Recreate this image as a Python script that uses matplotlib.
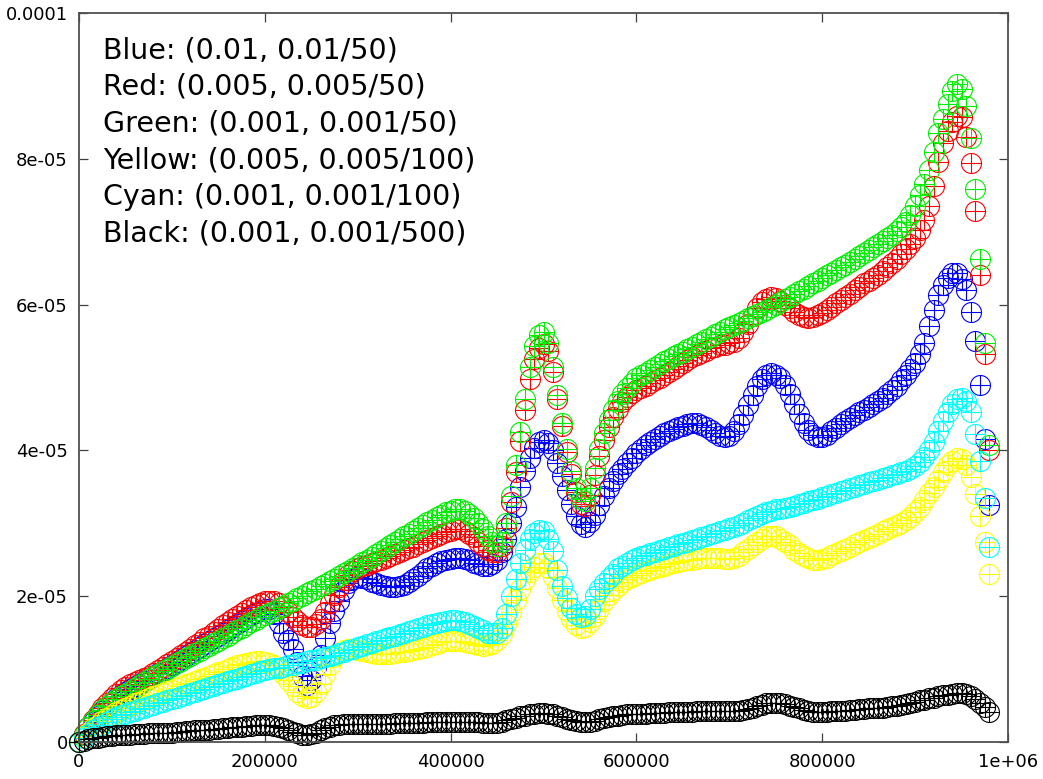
import numpy as np
import matplotlib
matplotlib.use('Agg')
import matplotlib.pyplot as plt
from matplotlib.path import Path

plt.rcParams['font.family'] = ['DejaVu Sans']

# iteration counter (sampled every 5000)
steps = np.arange(0, 985000, 5000)

# values, in units of 1e-6
blue = [0, 1.0, 2.0, 2.8, 3.6, 4.3, 5.0, 5.5, 6.0, 6.5,
        6.9, 7.3, 7.7, 8.0, 8.4, 8.7, 9.1, 9.5, 9.8, 10.2,
        10.6, 11.0, 11.4, 11.8, 12.2, 12.6, 13.0, 13.4, 13.8, 14.2,
        14.6, 15.0, 15.4, 15.8, 16.2, 16.6, 17.0, 17.4, 17.7, 18.0,
        18.2, 18.2, 17.6, 16.3, 15.0, 14.0, 12.8, 11.0, 9.0, 7.8,
        8.5, 10.3, 12.0, 14.3, 16.3, 18.0, 19.4, 20.8, 21.8, 22.4,
        22.6, 22.5, 22.3, 22.0, 21.8, 21.6, 21.4, 21.3, 21.3, 21.4,
        21.6, 21.9, 22.3, 22.8, 23.3, 23.8, 24.2, 24.5, 24.8, 25.0,
        25.1, 25.2, 25.2, 25.1, 24.9, 24.6, 24.4, 24.2, 24.2, 24.4,
        24.9, 26.0, 27.8, 30.0, 32.3, 35.0, 37.2, 39.0, 40.3, 41.2,
        41.4, 41.0, 40.0, 38.3, 36.5, 34.6, 32.6, 31.0, 29.9, 29.5,
        30.2, 31.2, 32.5, 33.7, 34.8, 35.8, 36.7, 37.5, 38.3, 39.0,
        39.6, 40.2, 40.7, 41.2, 41.6, 42.0, 42.4, 42.7, 43.0, 43.2,
        43.4, 43.6, 43.7, 43.7, 43.5, 43.2, 42.8, 42.4, 42.0, 41.9,
        42.0, 42.6, 43.6, 44.8, 46.2, 47.6, 48.9, 49.8, 50.4, 50.6,
        50.4, 49.9, 49.0, 47.8, 46.4, 45.0, 43.8, 42.8, 42.1, 41.8,
        41.8, 42.1, 42.6, 43.1, 43.6, 44.0, 44.4, 44.8, 45.2, 45.6,
        46.0, 46.4, 46.8, 47.2, 47.7, 48.3, 48.9, 49.6, 50.3, 51.1,
        52.0, 53.2, 54.8, 57.0, 59.3, 61.3, 62.7, 63.7, 64.3, 64.4,
        63.5, 62.0, 59.0, 55.0, 49.0, 41.5, 32.5]

red = [0, 1.1, 2.1, 3.0, 3.8, 4.6, 5.3, 6.0, 6.6, 7.1,
       7.5, 7.9, 8.2, 8.5, 8.8, 9.1, 9.5, 9.9, 10.3, 10.7,
       11.1, 11.5, 12.0, 12.4, 12.8, 13.3, 13.7, 14.2, 14.6, 15.1,
       15.5, 16.0, 16.4, 16.9, 17.3, 17.7, 18.1, 18.5, 18.8, 19.1,
       19.3, 19.4, 19.3, 19.0, 18.5, 17.9, 17.2, 16.6, 16.1, 15.8,
       15.8, 16.2, 16.9, 17.9, 19.0, 20.2, 21.3, 22.2, 22.9, 23.4,
       23.8, 24.1, 24.3, 24.5, 24.8, 25.0, 25.3, 25.5, 25.8, 26.0,
       26.3, 26.6, 26.8, 27.1, 27.4, 27.7, 28.0, 28.3, 28.6, 28.8,
       29.0, 29.2, 29.2, 29.0, 28.6, 28.1, 27.5, 26.9, 26.4, 26.1,
       26.1, 26.9, 29.3, 32.9, 37.0, 41.3, 45.6, 49.8, 52.6, 54.1,
       54.6, 53.6, 50.8, 47.1, 43.4, 39.8, 36.8, 34.3, 32.7, 32.4,
       33.9, 36.6, 39.2, 41.4, 43.2, 44.6, 45.7, 46.6, 47.3, 47.9,
       48.3, 48.6, 48.9, 49.2, 49.6, 50.0, 50.4, 50.8, 51.2, 51.6,
       52.0, 52.4, 52.8, 53.1, 53.4, 53.7, 54.0, 54.2, 54.4, 54.5,
       54.7, 54.9, 55.4, 56.2, 57.3, 58.5, 59.5, 60.3, 60.8, 61.0,
       60.9, 60.5, 60.0, 59.5, 59.0, 58.6, 58.3, 58.2, 58.3, 58.6,
       58.9, 59.3, 59.7, 60.2, 60.6, 61.0, 61.5, 62.0, 62.4, 62.9,
       63.3, 63.7, 64.1, 64.6, 65.1, 65.7, 66.3, 66.9, 67.6, 68.3,
       69.2, 70.3, 71.6, 73.5, 76.3, 79.5, 82.2, 83.8, 85.0, 85.9,
       85.7, 83.0, 79.4, 72.9, 64.1, 53.2, 40.1]

green = [0, 1.0, 2.0, 2.9, 3.7, 4.4, 5.0, 5.5, 5.9, 6.3,
         6.6, 7.0, 7.4, 7.8, 8.2, 8.6, 9.0, 9.3, 9.7, 10.0,
         10.4, 10.8, 11.1, 11.5, 11.8, 12.2, 12.5, 12.9, 13.2, 13.6,
         13.9, 14.3, 14.6, 15.0, 15.3, 15.7, 16.0, 16.4, 16.7, 17.1,
         17.4, 17.7, 18.0, 18.4, 18.7, 19.0, 19.4, 19.7, 20.0, 20.4,
         20.7, 21.0, 21.4, 21.7, 22.1, 22.4, 22.8, 23.2, 23.5, 23.9,
         24.3, 24.7, 25.0, 25.4, 25.8, 26.2, 26.6, 27.0, 27.4, 27.8,
         28.2, 28.6, 29.0, 29.4, 29.8, 30.2, 30.5, 30.9, 31.2, 31.5,
         31.7, 31.9, 31.9, 31.7, 31.3, 30.7, 30.0, 29.2, 28.3, 27.4,
         26.9, 27.4, 30.0, 33.8, 38.0, 42.5, 47.0, 51.5, 54.3, 55.8,
         56.2, 54.8, 51.5, 47.6, 43.8, 40.2, 37.2, 34.8, 33.3, 33.0,
         34.8, 37.6, 40.2, 42.4, 44.2, 45.6, 46.8, 47.8, 48.6, 49.3,
         49.9, 50.3, 50.6, 51.0, 51.4, 51.8, 52.2, 52.5, 52.9, 53.2,
         53.5, 53.9, 54.2, 54.6, 54.9, 55.3, 55.6, 55.9, 56.2, 56.6,
         56.9, 57.2, 57.5, 57.8, 58.1, 58.4, 58.7, 59.0, 59.3, 59.7,
         60.0, 60.4, 60.7, 61.1, 61.4, 61.8, 62.1, 62.5, 62.9, 63.3,
         63.7, 64.0, 64.4, 64.8, 65.2, 65.5, 65.9, 66.3, 66.7, 67.1,
         67.5, 67.9, 68.3, 68.7, 69.1, 69.6, 70.1, 70.6, 71.3, 72.3,
         73.5, 75.0, 76.6, 78.5, 81.0, 83.5, 85.5, 87.5, 89.3, 90.2,
         89.6, 87.2, 82.8, 75.8, 66.3, 54.7, 40.8]

yellow = [0, 0.7, 1.3, 1.9, 2.4, 2.9, 3.3, 3.7, 4.1, 4.4,
          4.7, 5.0, 5.3, 5.5, 5.8, 6.0, 6.3, 6.5, 6.7, 7.0,
          7.2, 7.4, 7.7, 7.9, 8.1, 8.4, 8.6, 8.8, 9.1, 9.3,
          9.6, 9.8, 10.0, 10.3, 10.5, 10.7, 10.9, 11.0, 11.1, 11.1,
          11.0, 10.8, 10.5, 10.0, 9.3, 8.5, 7.7, 6.9, 6.3, 6.0,
          6.2, 6.9, 8.0, 9.3, 10.6, 11.6, 12.2, 12.6, 12.7, 12.7,
          12.6, 12.5, 12.3, 12.2, 12.1, 12.1, 12.1, 12.1, 12.2, 12.3,
          12.4, 12.5, 12.6, 12.8, 12.9, 13.1, 13.3, 13.5, 13.7, 13.8,
          13.9, 13.9, 13.8, 13.7, 13.6, 13.4, 13.3, 13.2, 13.3, 13.5,
          14.0, 14.8, 16.2, 17.8, 19.5, 21.0, 22.3, 23.3, 24.0, 24.5,
          24.5, 23.9, 22.7, 21.1, 19.5, 18.0, 16.9, 16.1, 15.7, 15.8,
          16.4, 17.3, 18.3, 19.3, 20.1, 20.8, 21.4, 21.9, 22.3, 22.6,
          22.9, 23.2, 23.4, 23.6, 23.8, 24.0, 24.2, 24.4, 24.5, 24.7,
          24.8, 24.9, 25.0, 25.1, 25.2, 25.3, 25.3, 25.3, 25.2, 25.1,
          25.1, 25.2, 25.5, 26.0, 26.5, 27.0, 27.5, 27.9, 28.2, 28.3,
          28.2, 27.9, 27.5, 27.0, 26.4, 25.9, 25.5, 25.2, 25.0, 25.0,
          25.1, 25.3, 25.6, 25.9, 26.2, 26.5, 26.8, 27.1, 27.4, 27.7,
          28.0, 28.3, 28.6, 28.9, 29.2, 29.5, 29.8, 30.0, 30.4, 30.9,
          31.5, 32.3, 33.2, 34.1, 35.0, 36.0, 37.0, 38.0, 38.5, 38.9,
          38.8, 38.0, 36.3, 34.0, 31.0, 27.5, 23.0]

cyan = [0, 0.6, 1.1, 1.6, 2.0, 2.4, 2.8, 3.1, 3.4, 3.7,
        3.9, 4.1, 4.3, 4.5, 4.7, 4.9, 5.1, 5.3, 5.5, 5.7,
        5.9, 6.1, 6.3, 6.5, 6.7, 6.9, 7.1, 7.3, 7.5, 7.7,
        7.9, 8.1, 8.3, 8.5, 8.7, 8.9, 9.1, 9.3, 9.5, 9.7,
        9.9, 10.0, 10.1, 10.2, 10.3, 10.5, 10.6, 10.8, 10.9, 11.1,
        11.2, 11.3, 11.5, 11.6, 11.8, 12.0, 12.2, 12.4, 12.6, 12.8,
        13.0, 13.2, 13.4, 13.6, 13.8, 14.0, 14.2, 14.4, 14.6, 14.8,
        15.0, 15.2, 15.4, 15.6, 15.8, 16.0, 16.2, 16.3, 16.5, 16.6,
        16.7, 16.7, 16.6, 16.4, 16.2, 15.9, 15.6, 15.3, 15.0, 14.9,
        15.0, 15.6, 17.5, 20.0, 22.4, 24.6, 26.4, 27.8, 28.7, 29.1,
        28.9, 27.9, 26.2, 23.6, 21.4, 19.8, 18.4, 17.6, 17.2, 17.3,
        18.2, 20.0, 21.0, 21.8, 22.5, 23.1, 23.8, 24.2, 24.6, 24.9,
        25.2, 25.5, 25.7, 25.9, 26.1, 26.3, 26.5, 26.7, 26.9, 27.1,
        27.3, 27.5, 27.7, 27.9, 28.1, 28.3, 28.5, 28.7, 28.9, 29.1,
        29.3, 29.5, 29.8, 30.1, 30.4, 30.7, 31.0, 31.3, 31.5, 31.7,
        31.9, 32.0, 32.1, 32.2, 32.4, 32.6, 32.8, 33.0, 33.2, 33.4,
        33.6, 33.8, 34.0, 34.2, 34.4, 34.6, 34.8, 35.0, 35.2, 35.4,
        35.6, 35.8, 36.0, 36.2, 36.4, 36.6, 36.8, 37.0, 37.2, 37.5,
        37.9, 38.4, 39.1, 40.0, 41.2, 42.6, 44.0, 45.3, 46.3, 47.0,
        47.2, 46.8, 45.3, 42.3, 38.5, 33.5, 26.8]

black = [0, 0.2, 0.4, 0.5, 0.6, 0.7, 0.8, 0.8, 0.9, 0.9,
         1.0, 1.0, 1.1, 1.1, 1.1, 1.2, 1.2, 1.2, 1.3, 1.3,
         1.3, 1.4, 1.4, 1.5, 1.5, 1.6, 1.6, 1.7, 1.7, 1.8,
         1.8, 1.9, 1.9, 2.0, 2.1, 2.1, 2.2, 2.2, 2.3, 2.3,
         2.3, 2.3, 2.2, 2.1, 1.9, 1.7, 1.4, 1.2, 1.0, 1.0,
         1.1, 1.3, 1.6, 1.9, 2.1, 2.3, 2.4, 2.5, 2.5, 2.5,
         2.5, 2.5, 2.5, 2.5, 2.5, 2.5, 2.5, 2.5, 2.6, 2.6,
         2.6, 2.6, 2.6, 2.6, 2.6, 2.7, 2.7, 2.7, 2.7, 2.7,
         2.7, 2.7, 2.7, 2.7, 2.7, 2.7, 2.7, 2.6, 2.6, 2.6,
         2.6, 2.8, 3.0, 3.2, 3.3, 3.5, 3.6, 3.8, 3.9, 4.0,
         4.0, 3.9, 3.8, 3.6, 3.4, 3.2, 3.0, 2.9, 2.8, 2.7,
         2.8, 2.9, 3.1, 3.3, 3.4, 3.5, 3.6, 3.7, 3.8, 3.8,
         3.9, 3.9, 3.9, 4.0, 4.0, 4.0, 4.0, 4.1, 4.1, 4.1,
         4.1, 4.1, 4.1, 4.2, 4.2, 4.2, 4.2, 4.2, 4.2, 4.2,
         4.2, 4.3, 4.3, 4.4, 4.5, 4.7, 4.9, 5.1, 5.3, 5.4,
         5.4, 5.3, 5.2, 5.0, 4.8, 4.6, 4.4, 4.2, 4.1, 4.1,
         4.1, 4.1, 4.2, 4.2, 4.3, 4.3, 4.4, 4.4, 4.5, 4.5,
         4.6, 4.6, 4.7, 4.7, 4.8, 4.9, 5.0, 5.1, 5.2, 5.4,
         5.5, 5.7, 5.8, 6.0, 6.1, 6.3, 6.4, 6.5, 6.6, 6.7,
         6.7, 6.6, 6.3, 5.9, 5.4, 4.8, 4.1]

labels = ['Blue: (0.01, 0.01/50)',
          'Red: (0.005, 0.005/50)',
          'Green: (0.001, 0.001/50)',
          'Yellow: (0.005, 0.005/100)',
          'Cyan: (0.001, 0.001/100)',
          'Black: (0.001, 0.001/500)']

xticks = [0, 200000, 400000, 600000, 800000, 1000000]
xtick_labels = ['0', '200000', '400000', '600000', '800000', '1e+06']
yticks = [0, 2e-05, 4e-05, 6e-05, 8e-05, 1e-04]
ytick_labels = ['0', '2e-05', '4e-05', '6e-05', '8e-05', '0.0001']


# circle with a plus inside, like gnuplot point type 6
def circle_plus():
    circ = Path.unit_circle()
    h = Path([[-1, 0], [1, 0]], [Path.MOVETO, Path.LINETO])
    v = Path([[0, -1], [0, 1]], [Path.MOVETO, Path.LINETO])
    return Path.make_compound_path(circ, h, v)


marker = circle_plus()
W, H = 1043, 779
fig = plt.figure(figsize=(W / 100, H / 100), dpi=100)
ax = fig.add_axes([79 / W, (H - 742) / H, (1008 - 79) / W, (742 - 13) / H])

series = [(blue, '#0000ff'), (red, '#ff0000'), (green, '#00ee00'),
          (yellow, '#ffff00'), (cyan, '#00ffff'), (black, '#000000')]
for vals, col in series:
    y = np.array(vals) * 1e-6
    ax.plot(steps, y, linestyle='none', marker=marker, markersize=14.4,
            markerfacecolor='none', markeredgecolor=col, markeredgewidth=0.8,
            clip_on=False)

ax.set_xlim(0, 1000000)
ax.set_ylim(0, 1e-04)
ax.set_xticks(xticks, xtick_labels)
ax.set_yticks(yticks, ytick_labels)
ax.tick_params(direction='in', top=True, right=True, length=6.5, width=0.9,
               color='#404040', labelsize=13, pad=8)
for sp in ax.spines.values():
    sp.set_color('#505050')
    sp.set_linewidth(1.3)

for i, txt in enumerate(labels):
    fig.text(103 / W, 1 - (58.3 + 36.7 * i) / H, txt, fontsize=20.5,
             va='baseline', ha='left')

fig.savefig('out.png', dpi=100)
